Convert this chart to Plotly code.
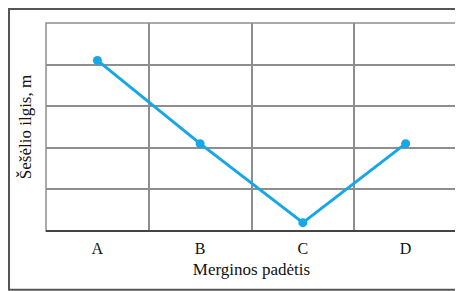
import plotly.graph_objects as go

categories = ["A", "B", "C", "D"]
shadow_length = [4.1, 2.1, 0.2, 2.1]
x_title = "Merginos padėtis"
y_title = "Šešėlio ilgis, m"

xpos = list(range(len(categories)))

fig = go.Figure()
fig.add_trace(go.Scatter(
    x=xpos, y=shadow_length, mode="lines+markers",
    line=dict(color="#17a6e6", width=3),
    marker=dict(color="#17a6e6", size=9),
    showlegend=False, hoverinfo="skip",
))

font_family = "Liberation Serif"
fig.update_layout(
    width=455, height=283,
    margin=dict(l=38, r=6, t=15, b=60),
    paper_bgcolor="white", plot_bgcolor="white",
    font=dict(family=font_family, color="#111111"),
    xaxis=dict(
        range=[-0.5, 3.5], tickvals=xpos, ticktext=categories,
        showgrid=False, zeroline=False, ticks="",
        ticklabelstandoff=6,
        tickfont=dict(size=16, family=font_family, color="#111111"),
        title=dict(text=x_title, font=dict(size=17, family=font_family, color="#111111"), standoff=7),
        minor=dict(tickvals=[0.5, 1.5, 2.5], showgrid=True, gridcolor="#8e8e8e", gridwidth=1.5, ticks=""),
        showline=False,
    ),
    yaxis=dict(
        range=[0, 5], dtick=1, showticklabels=False, ticks="",
        showgrid=True, gridcolor="#8e8e8e", gridwidth=1.5, zeroline=False,
        title=dict(text=y_title, font=dict(size=17, family=font_family, color="#111111"), standoff=9),
        showline=False,
    ),
)

# plot frame (gray) and darker bottom axis line
fig.add_shape(type="rect", xref="paper", yref="paper", x0=0, x1=1, y0=0, y1=1,
              line=dict(color="#8e8e8e", width=1.5), layer="below")
fig.add_shape(type="line", xref="paper", yref="paper", x0=0, x1=1, y0=0, y1=0,
              line=dict(color="#444444", width=2))
# outer border
fig.add_shape(type="rect", xref="paper", yref="paper", x0=-0.090, x1=1.012, y0=-0.283, y1=1.067,
              line=dict(color="#555555", width=2))

fig.write_html("out.html")
